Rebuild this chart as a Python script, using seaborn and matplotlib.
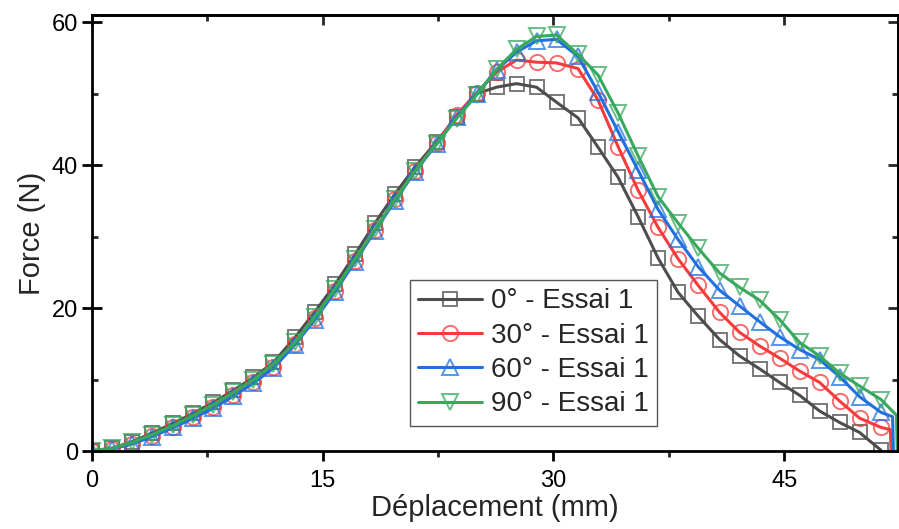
import matplotlib
matplotlib.use('Agg')
import matplotlib.pyplot as plt
import seaborn as sns
from matplotlib.colors import to_rgba

# marker positions along the displacement axis (mm)
disp = [0.0, 1.3, 2.6, 3.9, 5.3, 6.6, 7.9, 9.2, 10.5, 11.8,
        13.2, 14.5, 15.8, 17.1, 18.4, 19.7, 21.0, 22.4, 23.7, 25.0,
        26.3, 27.6, 28.9, 30.2, 31.6, 32.9, 34.2, 35.5, 36.8, 38.1,
        39.4, 40.8, 42.1, 43.4, 44.7, 46.0, 47.3, 48.6, 49.9, 51.3]

force_0 = [0.0, 0.4, 1.3, 2.5, 3.9, 5.3, 6.8, 8.5, 10.3, 12.4,
           15.9, 19.5, 23.3, 27.5, 31.9, 36.0, 39.7, 43.3, 46.7, 50.0,
           50.9, 51.4, 50.9, 48.8, 46.6, 42.5, 38.3, 32.8, 27.0, 22.2,
           18.9, 15.6, 13.3, 11.5, 9.6, 7.8, 5.6, 4.0, 2.6, 0.1]
force_30 = [0.0, 0.3, 1.0, 2.1, 3.4, 4.8, 6.2, 7.9, 9.7, 11.8,
            15.0, 18.6, 22.4, 26.6, 30.9, 35.2, 39.2, 43.1, 47.0, 50.1,
            53.0, 54.7, 54.4, 54.3, 53.5, 49.1, 42.6, 36.5, 31.3, 26.9,
            23.2, 19.4, 16.6, 14.7, 13.0, 11.2, 9.6, 7.0, 4.6, 3.3]
force_60 = [0.0, 0.3, 1.0, 2.0, 3.3, 4.6, 6.0, 7.7, 9.5, 11.6,
            14.9, 18.4, 22.3, 26.5, 30.8, 35.0, 39.1, 42.9, 46.7, 49.9,
            53.3, 55.8, 57.4, 57.6, 55.2, 50.2, 44.7, 39.3, 33.8, 29.6,
            25.8, 22.5, 20.3, 18.1, 16.0, 14.2, 12.8, 10.4, 7.6, 5.4]
force_90 = [0.0, 0.4, 1.2, 2.3, 3.6, 5.0, 6.5, 8.2, 10.0, 12.2,
            15.2, 18.8, 22.7, 26.8, 31.0, 35.2, 39.2, 43.0, 46.5, 49.8,
            53.4, 56.2, 58.0, 58.2, 55.5, 52.6, 47.3, 41.3, 35.6, 31.9,
            28.4, 24.9, 22.9, 21.1, 18.4, 15.2, 13.3, 10.9, 9.1, 7.2]

# end of each test: last recorded points before the sample breaks
end_x_30 = [51.9, 51.95]
end_y_30 = [3.0, 0.0]
end_x_60 = [52.05, 52.1]
end_y_60 = [4.8, 0.0]
end_x_90 = [52.3, 52.35]
end_y_90 = [5.0, 0.0]

labels = ['0° - Essai 1', '30° - Essai 1', '60° - Essai 1', '90° - Essai 1']
colors = ['#4d4d4d', '#f53b3b', '#2070e0', '#38a85c']
markers = ['s', 'o', '^', 'v']

sns.set_theme(style='ticks')
plt.rcParams['font.family'] = ['Liberation Sans', 'DejaVu Sans']

fig = plt.figure(figsize=(8.99, 5.29), dpi=100)
ax = fig.add_axes([0.1023, 0.1474, 0.8966, 0.8242])

series = [
    (disp, force_0),
    (disp + end_x_30, force_30 + end_y_30),
    (disp + end_x_60, force_60 + end_y_60),
    (disp + end_x_90, force_90 + end_y_90),
]

for (xs, ys), lab, c, m in zip(series, labels, colors, markers):
    sns.lineplot(x=xs, y=ys, ax=ax, color=c, lw=2.2, marker=m,
                 markersize=11 if m != 's' else 10,
                 markerfacecolor='none',
                 markeredgecolor=to_rgba(c, 0.75),
                 markeredgewidth=1.4,
                 markevery=slice(0, len(disp)),
                 label=lab, sort=False, estimator=None)

ax.set_xlim(0, 52.4)
ax.set_ylim(0, 61)
ax.set_xticks([0, 15, 30, 45])
ax.set_yticks([0, 20, 40, 60])
ax.set_xticks([7.5, 22.5, 37.5], minor=True)
ax.set_yticks([10, 30, 50], minor=True)

for s in ax.spines.values():
    s.set_visible(True)
    s.set_linewidth(2)
    s.set_color('black')

ax.tick_params(axis='x', which='major', direction='out', length=7, width=2,
               labelsize=17, pad=7, colors='black')
ax.tick_params(axis='x', which='minor', direction='out', length=4, width=2)
ax.tick_params(axis='y', which='major', direction='inout', length=14, width=2,
               labelsize=17, pad=3, colors='black')
ax.tick_params(axis='y', which='minor', direction='in', length=4, width=2)

top = ax.secondary_xaxis('top')
top.set_xticks([0, 15, 30, 45])
top.set_xticks([7.5, 22.5, 37.5], minor=True)
top.tick_params(which='major', direction='in', length=7, width=2, labeltop=False)
top.tick_params(which='minor', direction='in', length=4, width=2)
top.spines['top'].set_linewidth(2)

right = ax.secondary_yaxis('right')
right.set_yticks([0, 20, 40, 60])
right.set_yticks([10, 30, 50], minor=True)
right.tick_params(which='major', direction='in', length=7, width=2, labelright=False)
right.tick_params(which='minor', direction='in', length=4, width=2)
right.spines['right'].set_linewidth(2)

ax.set_xlabel('Déplacement (mm)', fontsize=21, labelpad=1)
ax.set_ylabel('Force (N)', fontsize=21, labelpad=4)

leg = ax.legend(loc='upper left', bbox_to_anchor=(0.3945, 0.392),
                fontsize=20, frameon=True, fancybox=False,
                edgecolor='#555555', framealpha=1, borderpad=0.3,
                labelspacing=0.3, handlelength=2.3, handletextpad=0.3,
                borderaxespad=0)
leg.get_frame().set_linewidth(1.0)

fig.savefig('out.png', dpi=100)
